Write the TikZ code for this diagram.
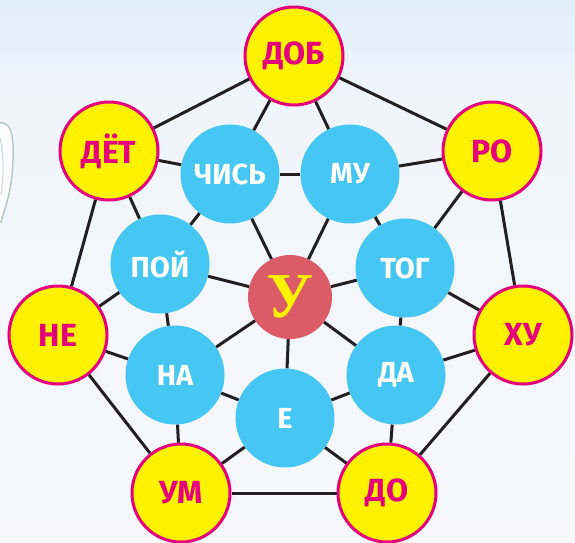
\documentclass[tikz,border=0pt]{standalone}
\usepackage{fontspec}
\newfontfamily\sylfont{Fira Sans}
\newfontfamily\bigfont{Liberation Serif}
\definecolor{sylyellow}{RGB}{255,242,0}
\definecolor{sylmagenta}{RGB}{229,0,125}
\definecolor{sylblue}{RGB}{69,198,243}
\definecolor{sylred}{RGB}{219,91,102}
\definecolor{sylline}{RGB}{35,31,32}
\definecolor{bgtop}{RGB}{224,238,250}
\definecolor{bgmid}{RGB}{240,245,251}
\definecolor{bgbottom}{RGB}{248,248,252}
\definecolor{leafline}{RGB}{178,204,190}
\tikzset{outer/.style={circle, fill=sylyellow, draw=sylmagenta, line width=3pt, minimum size=98pt, inner sep=0pt, text=sylmagenta, font=\sylfont\bfseries\fontsize{32}{32}\selectfont},
inner/.style={circle, fill=sylblue, minimum size=99pt, inner sep=0pt, text=white, font=\sylfont\bfseries\fontsize{29}{29}\selectfont},
link/.style={draw=sylline, line width=3pt}}

\begin{document}
\begin{tikzpicture}[x=1pt,y=-1pt]

    % background
    \useasboundingbox (0,0) rectangle (575,542);
    \clip (0,0) rectangle (575,542);
    \fill[bgbottom] (0,0) rectangle (575,542);
    \shade[top color=bgmid, bottom color=bgbottom] (0,100) rectangle (575,542);
    \shade[top color=bgtop, bottom color=bgmid] (0,0) rectangle (575,100);
    \draw[leafline, line width=1.5pt, fill=white!60!bgbottom] (-5,123) .. controls (10,120) and (14,130) .. (13,160) .. controls (12,190) and (6,205) .. (1,222) -- (-5,222);
    \draw[leafline!70, line width=1pt] (0,138) .. controls (4,155) and (4,175) .. (1,195);

    % outer ring
    \node[outer] (dob) at (294,56) {ДОБ};
    \node[outer] (det) at (109,151) {ДЁТ};
    \node[outer] (ro) at (492,151) {РО};
    \node[outer] (ne) at (58,335) {НЕ};
    \node[outer] (hu) at (523,335) {ХУ};
    \node[outer] (um) at (181,493) {УМ};
    \node[outer] (do) at (387,493) {ДО};

    % inner ring
    \node[inner] (chis) at (230,174) {ЧИСЬ};
    \node[inner] (mu) at (350,174) {МУ};
    \node[inner] (poj) at (160,264) {ПОЙ};
    \node[inner] (tog) at (405,268) {ТОГ};
    \node[inner] (na) at (175,375) {НА};
    \node[inner] (da) at (396,375) {ДА};
    \node[inner] (e) at (285,418) {Е};

    % centre
    \node[circle, fill=sylred, minimum size=84pt, inner sep=0pt, text=sylyellow, font=\bigfont\bfseries\fontsize{64}{64}\selectfont] (u) at (290,297) {У};

    \foreach \a/\b in {dob/det, dob/ro, det/ne, ro/hu, ne/um, hu/do, um/do}
    \draw[link] (\a) -- (\b);

    \foreach \a/\b in {dob/chis, dob/mu, det/chis, det/poj, ro/mu, ro/tog, ne/poj, ne/na,
                      hu/tog, hu/da, um/na, um/e, do/e, do/da}
    \draw[link] (\a) -- (\b);

    \foreach \a/\b in {chis/mu, chis/poj, mu/tog, poj/na, tog/da, na/e, e/da}
    \draw[link] (\a) -- (\b);

    \foreach \i in {chis, mu, poj, tog, na, e, da}
    \draw[link] (u) -- (\i);

  \end{tikzpicture}
\end{document}
